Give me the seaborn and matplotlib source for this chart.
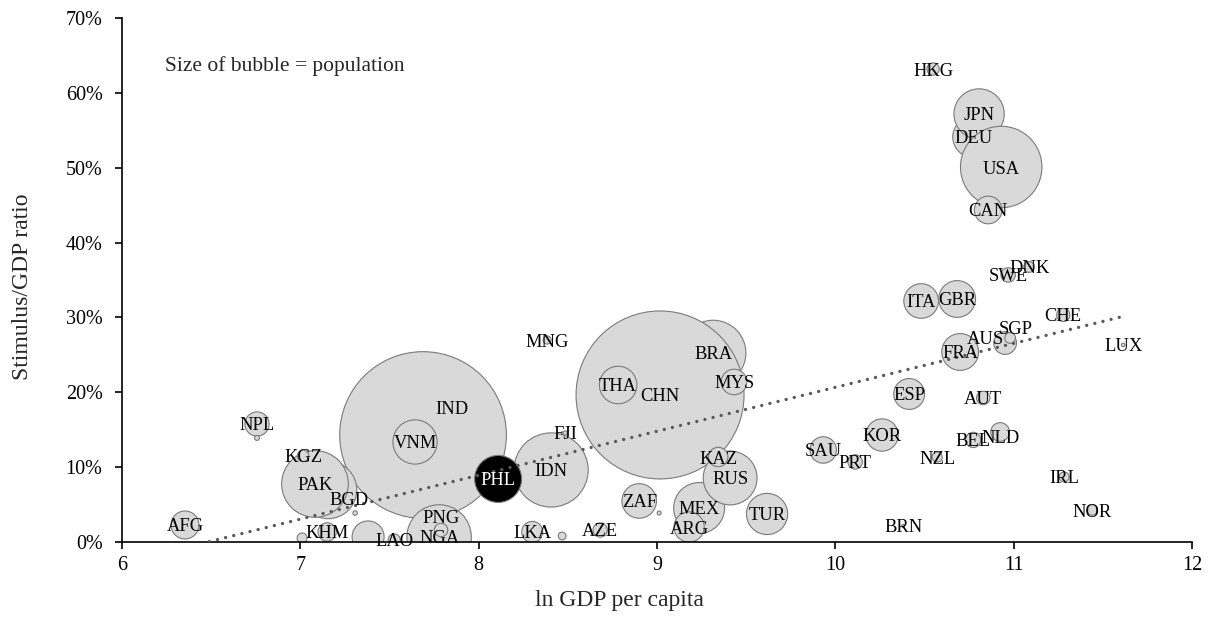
import numpy as np
import pandas as pd
import matplotlib
matplotlib.use("Agg")
import matplotlib.pyplot as plt
from matplotlib.ticker import PercentFormatter, MultipleLocator
import seaborn as sns

# Country codes ("" = unlabelled bubble), drawn in this order
countries = ["BRA", "CHN", "IND", "DEU", "JPN", "USA", "IDN", "BGD", "PAK", "NGA",
             "MEX", "RUS", "ARG", "PHL", "VNM", "TUR", "THA", "MYS", "ZAF", "GBR",
             "FRA", "ITA", "KOR", "ESP", "", "AFG", "CAN", "SAU", "NPL", "AUS",
             "LKA", "KAZ", "NLD", "KHM", "BEL", "SWE", "PRT", "AZE", "AUT", "PNG",
             "CHE", "HKG", "LAO", "KGZ", "DNK", "SGP", "NOR", "NZL", "IRL", "MNG",
             "", "", "", "", "", "FJI", "LUX", "BRN"]

# Natural log of GDP per capita
ln_gdp_pc = [9.315, 9.017, 7.688, 10.773, 10.806, 10.930, 8.406, 7.155, 7.082, 7.778,
             9.236, 9.410, 9.180, 8.109, 7.643, 9.617, 8.782, 9.432, 8.900, 10.683,
             10.700, 10.481, 10.262, 10.414, 7.380, 6.353, 10.857, 9.932, 6.757, 10.952,
             8.300, 9.343, 10.924, 7.150, 10.773, 10.969, 10.111, 8.681, 10.829, 7.789,
             11.278, 10.548, 7.526, 7.015, 11.087, 10.980, 11.440, 10.571, 11.283, 8.384,
             7.010, 8.468, 6.757, 7.307, 9.012, 8.485, 11.614, 10.380]

# Fiscal stimulus as a share of GDP
stimulus_ratio = [0.2525, 0.1964, 0.1429, 0.5410, 0.5717, 0.5009, 0.0962, 0.0695, 0.0775, 0.0067,
                  0.0454, 0.0855, 0.0200, 0.0842, 0.1336, 0.0374, 0.2097, 0.2137, 0.0548, 0.3246,
                  0.2538, 0.3219, 0.1429, 0.1977, 0.0067, 0.0227, 0.4435, 0.1229, 0.1576, 0.2658,
                  0.0134, 0.1135, 0.1469, 0.0134, 0.1363, 0.3567, 0.1069, 0.0160, 0.1924, 0.0160,
                  0.3032, 0.6318, 0.0027, 0.1149, 0.3674, 0.2725, 0.0427, 0.1135, 0.0868, 0.2698,
                  0.0053, 0.0080, 0.1390, 0.0387, 0.0387, 0.1456, 0.2632, 0.0214]

# Population, millions
population = [212.6, 1402.0, 1380.0, 83.2, 125.8, 329.5, 273.5, 164.7, 220.9, 206.1,
              128.9, 144.1, 45.4, 109.6, 97.3, 84.3, 69.8, 32.4, 59.3, 67.2,
              67.4, 59.6, 51.8, 47.4, 51.0, 38.9, 38.0, 34.8, 29.1, 25.7,
              21.9, 18.8, 17.4, 16.7, 11.6, 10.4, 10.3, 10.1, 8.9, 8.9,
              8.6, 7.5, 7.3, 6.5, 5.8, 5.7, 5.4, 5.1, 4.9, 3.3,
              5.0, 3.0, 1.2, 1.0, 0.8, 0.9, 0.63, 0.44]

# Linear trend line (stimulus ratio = slope * ln GDP pc + intercept)
trend_slope = 0.0587
trend_intercept = -0.3804

highlight = "PHL"

df = pd.DataFrame({
    "country": countries,
    "ln_gdp_pc": ln_gdp_pc,
    "stimulus": stimulus_ratio,
    "population": population,
})
df["group"] = np.where(df["country"] == highlight, "highlight", "other")

sns.set_style("white")
plt.rcParams["font.family"] = ["Liberation Serif", "DejaVu Serif"]

fig = plt.figure(figsize=(12.13, 6.17), dpi=100)
ax = fig.add_axes([0.1006, 0.1216, 0.8821, 0.8493])

# Bubble area proportional to population
max_area = 14630.0
sns.scatterplot(
    data=df, x="ln_gdp_pc", y="stimulus",
    size="population", sizes=(0.0, max_area), size_norm=(0.0, max(population)),
    hue="group", palette={"other": "#d9d9d9", "highlight": "#000000"},
    edgecolor="#7a7a7a", linewidth=0.8, alpha=1.0, legend=False, ax=ax,
)

# Dotted trend line across the x-range of the data
tx = np.array([min(ln_gdp_pc), max(ln_gdp_pc)])
ty = trend_slope * tx + trend_intercept
ax.plot(tx, ty, color="#595959", linewidth=2.4, linestyle=(0, (0.01, 2.5)),
        dash_capstyle="round", zorder=3)

# Country labels; a few are nudged off their bubble centre (points)
label_offsets = {"IND": (21, 19.5), "BGD": (15, -6.5), "PNG": (0, 9.5),
                 "AUS": (-14.5, 3.6), "SGP": (4.3, 7.2), "NLD": (0, -3)}
for _, row in df.iterrows():
    name = row["country"]
    if not name:
        continue
    ax.annotate(name, (row["ln_gdp_pc"], row["stimulus"]),
                xytext=label_offsets.get(name, (0, 0)), textcoords="offset points",
                ha="center", va="center_baseline", fontsize=13.3,
                color="white" if name == highlight else "black", zorder=4)

ax.text(0.040, 0.908, "Size of bubble = population", transform=ax.transAxes,
        ha="left", va="center", fontsize=15.5)

ax.set_xlim(6, 12)
ax.set_ylim(0, 0.70)
ax.xaxis.set_major_locator(MultipleLocator(1))
ax.yaxis.set_major_locator(MultipleLocator(0.10))
ax.yaxis.set_major_formatter(PercentFormatter(1.0, decimals=0))

ax.set_xlabel("ln GDP per capita", fontsize=17)
ax.set_ylabel("Stimulus/GDP ratio", fontsize=17)
ax.xaxis.set_label_coords(0.4645, -0.0916)
ax.yaxis.set_label_coords(-0.083, 0.4866)

sns.despine(ax=ax)
for side in ("left", "bottom"):
    ax.spines[side].set_color("black")
    ax.spines[side].set_linewidth(1.2)
ax.tick_params(axis="both", which="major", direction="out", length=5, width=1.2,
               color="black", labelsize=14.5, labelcolor="black",
               left=True, bottom=True)
ax.tick_params(axis="y", pad=9)
ax.tick_params(axis="x", pad=5)

fig.savefig("out.png", dpi=100)
